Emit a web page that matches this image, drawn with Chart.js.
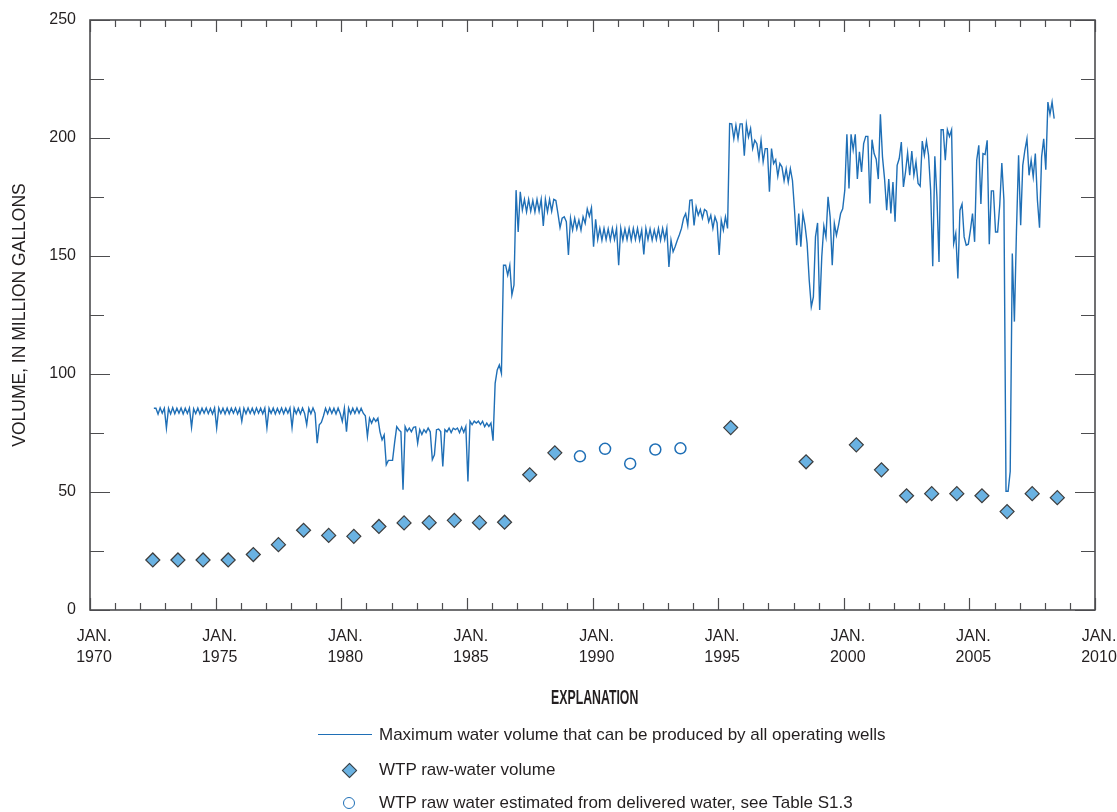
<!DOCTYPE html>
<html>
<head>
<meta charset="utf-8">
<title>Water volume</title>
<script src="https://cdn.jsdelivr.net/npm/chart.js@4.4.1/dist/chart.umd.min.js"></script>
<style>
  html, body { margin: 0; padding: 0; background: #fff; }
  #wrap { position: relative; width: 1117px; height: 812px; overflow: hidden; }
  #chart { position: absolute; left: 0; top: 0; }
  .expl { position: absolute; font-family: "Liberation Sans", Arial, sans-serif; color: #231f20; font-size: 17px; line-height: 20px; white-space: nowrap; }
  .title { left: 395px; width: 400px; text-align: center; top: 686px; line-height: 22px; }
  .title span { display: inline-block; font-weight: bold; font-size: 20.5px; transform: scaleX(0.6); }
  .key { position: absolute; }
  .key-line { left: 318px; top: 734px; width: 54px; height: 0; border-top: 1.5px solid #1f6fb6; }
  .key-diamond { left: 344px; top: 765px; width: 9px; height: 9px; background: #6ab2e2; border: 1.2px solid #3d3d3d; transform: rotate(45deg); }
  .key-circle { left: 343px; top: 797px; width: 10px; height: 10px; border: 1.5px solid #1f6fb6; border-radius: 50%; background: #fff; }
</style>
</head>
<body>
<div id="wrap">
  <canvas id="chart" width="1117" height="812"></canvas>
  <div class="expl title"><span>EXPLANATION</span></div>
  <div class="key key-line"></div>
  <div class="expl" style="left:379px; top:725px;">Maximum water volume that can be produced by all operating wells</div>
  <div class="key key-diamond"></div>
  <div class="expl" style="left:379px; top:760px;">WTP raw-water volume</div>
  <div class="key key-circle"></div>
  <div class="expl" style="left:379px; top:793px;">WTP raw water estimated from delivered water, see Table S1.3</div>
</div>
<script>
// monthly capacity of all operating wells, million gallons
// first value is July 1972, one value per month after that
const capacityStartYear = 1972;
const capacityStartMonth = 6; // 0 = January

const capacity1970s = [
  85.5, 85.5, 83, 85.7, 83.4, 85.5,                                   // 1972 Jul-Dec
  77.1, 85.5, 83.1, 85.7, 83.2, 85.5, 83.4, 85.6, 83.1, 85.5, 83.3, 85.6, // 1973
  77.4, 85.3, 83.2, 85.6, 83.1, 85.5, 83.4, 85.6, 83.2, 85.4, 83.1, 85.6, // 1974
  77.1, 85.6, 83.3, 85.5, 83.1, 85.6, 83.2, 85.5, 83.4, 85.6, 83.1, 85.4, // 1975
  79.9, 85.5, 83.2, 85.6, 83.3, 85.5, 83.1, 85.6, 83.4, 85.5, 83.2, 85.6, // 1976
  77.2, 85.5, 83.3, 85.6, 83.1, 85.4, 83.3, 85.6, 83.2, 85.5, 83.4, 85.6, // 1977
  77.3, 85.6, 83.2, 85.5, 83.1, 85.6, 83.3, 78.5, 85.5, 83.2, 85.6, 83.4, // 1978
  70.7, 78.5, 79.5, 82.2, 85.5, 83.2, 85.6, 83.3, 85.5, 83.1, 85.6, 83.3  // 1979
];

const capacity1980s = [
  79.9, 85.5, 75.6, 85.6, 83.2, 85.5, 83.3, 85.6, 83.4, 85.5, 83.4, 82.3, // 1980
  73.5, 81.3, 79.2, 81.3, 79.9, 81.3, 75.5, 72.1, 74.2, 61.5, 63.4, 63.4, // 1981
  63.4, 71, 77.7, 76.4, 75.5, 51, 77.7, 75.7, 77.1, 75.5, 77.4, 77.6,     // 1982
  70.7, 76.5, 74.4, 76.4, 75.2, 77.1, 75.5, 63.7, 65.8, 76.4, 76.7, 75.6, // 1983
  60.8, 76.4, 75.5, 77.1, 75.2, 77, 76.4, 77.1, 75.1, 77.5, 75.3, 77.7,   // 1984
  54.5, 80, 78.5, 80, 79.2, 80, 78.6, 80, 77.7, 79.2, 77.8, 79.2,         // 1985
  71.7, 96, 101.7, 103.8, 100.3, 146.1, 146.1, 141.9, 146.1, 133.5, 137.7, 177.9, // 1986
  160.2, 177.2, 169.5, 174, 168.7, 174, 169, 173.5, 168.7, 174, 169, 174, // 1987
  162.7, 174, 168.7, 174, 169, 174, 173.5, 168, 162, 166, 166.6, 164.5,   // 1988
  150.4, 166, 161, 166, 161.5, 165.2, 161, 166.6, 163.8, 170, 166.8, 170.4 // 1989
];

const capacity1990s = [
  153.9, 165.5, 157, 161.7, 156.7, 161.7, 157, 161.5, 156.7, 161.7, 157, 161.7, // 1990
  146.1, 161.7, 156.7, 161.5, 157, 161.7, 156.7, 161.7, 157, 161.7, 156.7, 161, // 1991
  150.7, 161.7, 157, 161.5, 156.7, 161, 157, 161.7, 156.7, 161.7, 157, 161.7,   // 1992
  145.4, 156.7, 151.8, 154, 156.7, 159, 161.7, 166, 168, 163, 173.6, 173.8,     // 1993
  163, 170.8, 167.3, 169.7, 166, 169.7, 169, 164.5, 167.3, 161.7, 166.6, 164,   // 1994
  150.4, 165.2, 161, 166.6, 161.7, 206.1, 206, 199.7, 205.4, 199.7, 206, 206,   // 1995
  192.5, 205.8, 200.4, 204, 195.5, 199, 197.6, 191.3, 199, 189.9, 195.5, 195.5, // 1996
  177.2, 195.5, 189.2, 190.8, 183.8, 189.2, 187.7, 181.9, 187, 181.3, 187, 182, // 1997
  169.4, 154.6, 168, 153.9, 168, 163, 155.3, 139.8, 128.5, 132.7, 158.1, 164,   // 1998
  127.1, 149.7, 162.7, 158.1, 175.1, 166.6, 146.1, 163.8, 158.8, 163, 168, 170  // 1999
];

const capacity2000s = [
  177.9, 201.6, 178.6, 201.6, 195, 201.6, 182.6, 194.1, 185.6, 197.6, 200.7, 200.7, // 2000
  172.3, 199.3, 193.4, 191, 182.6, 210.1, 192, 182.6, 169.4, 182.6, 168, 181.3,     // 2001
  164.5, 188.4, 191.3, 198.3, 179.3, 185.6, 193.7, 184.2, 194.5, 184.2, 189.9, 180.7, // 2002
  179.6, 198.7, 192.7, 198.7, 192.7, 177.9, 145.7, 192.3, 175.1, 147.5, 203.5, 203.5, // 2003
  190.6, 203.5, 200.7, 203.5, 155.3, 159.6, 140.5, 169.4, 172, 158.1, 154.6, 155,   // 2004
  161, 168, 156, 190.6, 196.9, 172, 193.4, 193, 199, 155, 177.6, 177.6,             // 2005
  160.2, 160.2, 171.5, 189.4, 173.6, 50.3, 50.3, 58.7, 151.1, 122.2, 161, 192.7,    // 2006
  163, 188.4, 194.8, 199.7, 184.2, 190.6, 183.5, 193.4, 173.6, 162, 192, 199.7,     // 2007
  186.6, 215.2, 210, 215.2, 208.2                                                   // 2008 Jan-May
];

// annual WTP raw-water volume (plotted at mid-year)
const rawWaterYears = [1972.5, 1973.5, 1974.5, 1975.5, 1976.5, 1977.5, 1978.5, 1979.5, 1980.5,
  1981.5, 1982.5, 1983.5, 1984.5, 1985.5, 1986.5, 1987.5, 1988.5, 1995.5, 1998.5, 2000.5,
  2001.5, 2002.5, 2003.5, 2004.5, 2005.5, 2006.5, 2007.5, 2008.5];
const rawWaterVolume = [21.2, 21.2, 21.2, 21.2, 23.5, 27.7, 33.8, 31.6, 31.2,
  35.4, 36.9, 37, 38, 37, 37.2, 57.3, 66.6, 77.3, 62.8, 70,
  59.4, 48.4, 49.3, 49.3, 48.4, 41.7, 49.3, 47.6];

// raw water estimated from delivered water
const estimatedYears = [1989.5, 1990.5, 1991.5, 1992.5, 1993.5];
const estimatedVolume = [65.1, 68.3, 62, 68, 68.5];

const yTicks = [0, 50, 100, 150, 200, 250];

const lineBlue = '#1f6fb6';
const inkColor = '#231f20';
const frameColor = '#4d4d4f';
const tickFont = { family: '"Liberation Sans", Arial, sans-serif', size: 16, lineHeight: 1.3 };


const capacityValues = capacity1970s.concat(capacity1980s, capacity1990s, capacity2000s);
const capacityPoints = capacityValues.map((v, i) => {
  const m = capacityStartMonth + i;
  return { x: capacityStartYear + Math.floor(m / 12) + ((m % 12) + 0.5) / 12, y: v };
});
const rawPoints = rawWaterYears.map((yr, i) => ({ x: yr, y: rawWaterVolume[i] }));
const estPoints = estimatedYears.map((yr, i) => ({ x: yr, y: estimatedVolume[i] }));

// inward ticks on all four sides plus the frame
const frameTicks = {
  id: 'frameTicks',
  afterDraw(chart) {
    const { ctx, chartArea: a, scales: { x, y } } = chart;
    ctx.save();
    ctx.strokeStyle = frameColor;
    ctx.lineWidth = 1.2;
    ctx.beginPath();
    for (let yr = 1970; yr <= 2010; yr++) {
      const px = Math.round(x.getPixelForValue(yr)) + 0.5;
      const len = yr % 5 === 0 ? 12 : 7;
      ctx.moveTo(px, a.bottom); ctx.lineTo(px, a.bottom - len);
      ctx.moveTo(px, a.top); ctx.lineTo(px, a.top + len);
    }
    for (let v = 0; v <= 250; v += 25) {
      const py = Math.round(y.getPixelForValue(v)) + 0.5;
      const len = v % 50 === 0 ? 20 : 14;
      ctx.moveTo(a.left, py); ctx.lineTo(a.left + len, py);
      ctx.moveTo(a.right, py); ctx.lineTo(a.right - len, py);
    }
    ctx.stroke();
    ctx.lineWidth = 1.6;
    ctx.strokeRect(a.left, a.top, a.right - a.left, a.bottom - a.top);
    ctx.restore();
  }
};

new Chart(document.getElementById('chart'), {
  type: 'line',
  data: {
    datasets: [
      {
        label: 'Maximum water volume that can be produced by all operating wells',
        data: capacityPoints,
        borderColor: lineBlue,
        borderWidth: 1.4,
        pointRadius: 0,
        tension: 0,
        fill: false
      },
      {
        label: 'WTP raw-water volume',
        data: rawPoints,
        showLine: false,
        pointStyle: 'rectRot',
        pointRadius: 7,
        pointBackgroundColor: '#6ab2e2',
        pointBorderColor: '#3d3d3d',
        pointBorderWidth: 1.2
      },
      {
        label: 'WTP raw water estimated from delivered water, see Table S1.3',
        data: estPoints,
        showLine: false,
        pointStyle: 'circle',
        pointRadius: 5.5,
        pointBackgroundColor: '#ffffff',
        pointBorderColor: lineBlue,
        pointBorderWidth: 1.5
      }
    ]
  },
  options: {
    responsive: false,
    animation: false,
    layout: { padding: { top: 20, right: 22, bottom: 132, left: 0 } },
    plugins: {
      legend: { display: false },
      tooltip: { enabled: false }
    },
    scales: {
      x: {
        type: 'linear',
        min: 1970,
        max: 2010,
        afterFit: (s) => { s.height = 70; s.paddingLeft = 0; s.paddingRight = 0; },
        grid: { display: false, drawTicks: false },
        border: { display: false },
        ticks: {
          stepSize: 5,
          autoSkip: false,
          maxRotation: 0,
          padding: 16,
          labelOffset: 4,
          color: inkColor,
          font: tickFont,
          callback: (v) => ['JAN.', String(v)]
        }
      },
      y: {
        min: 0,
        max: 250,
        afterFit: (s) => { s.width = 90; s.paddingTop = 0; s.paddingBottom = 0; },
        afterBuildTicks: (s) => { s.ticks = yTicks.map(v => ({ value: v })); },
        grid: { display: false, drawTicks: false },
        border: { display: false },
        ticks: { padding: 14, color: inkColor, font: tickFont },
        title: {
          display: true,
          text: 'VOLUME, IN MILLION GALLONS',
          color: inkColor,
          padding: { top: 10, bottom: 0 },
          font: { family: '"Liberation Sans", Arial, sans-serif', size: 17.5 }
        }
      }
    }
  },
  plugins: [frameTicks]
});
</script>
</body>
</html>
